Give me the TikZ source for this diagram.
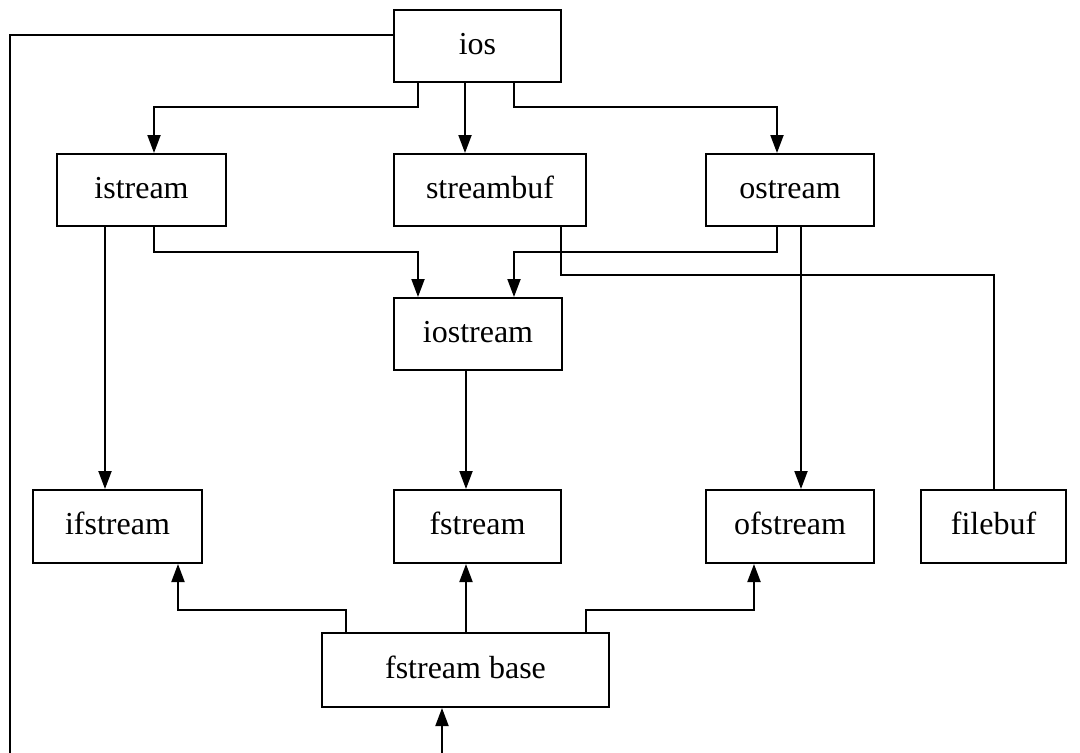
\documentclass[tikz,border=0pt]{standalone}
\usepackage{fontspec}
\setmainfont{Liberation Serif}
\usetikzlibrary{arrows.meta}
\tikzset{
  box/.style={draw, line width=2pt, inner sep=0pt, minimum height=72pt, text height=22pt, text depth=6pt, font=\fontsize{32}{38}\selectfont},
  conn/.style={line width=2pt},
  arr/.style={line width=2pt, -{Triangle[length=18pt,width=13pt]}}
}
\begin{document}
\begin{tikzpicture}[x=1pt,y=1pt]
\useasboundingbox (0,0) rectangle (1080,-753);
% nodes
\node[box, minimum width=167pt] (ios) at (477.5,-46) {ios};
\node[box, minimum width=169pt] (istream) at (141.5,-190) {istream};
\node[box, minimum width=192pt] (streambuf) at (490,-190) {streambuf};
\node[box, minimum width=168pt] (ostream) at (790,-190) {ostream};
\node[box, minimum width=168pt] (iostream) at (478,-334) {iostream};
\node[box, minimum width=169pt, minimum height=73pt] (ifstream) at (117.5,-526.5) {ifstream};
\node[box, minimum width=167pt, minimum height=73pt] (fstream) at (477.5,-526.5) {fstream};
\node[box, minimum width=168pt, minimum height=73pt] (ofstream) at (790,-526.5) {ofstream};
\node[box, minimum width=145pt, minimum height=73pt] (filebuf) at (993.5,-526.5) {filebuf};
\node[box, minimum width=287pt, minimum height=74pt] (fbase) at (465.5,-670) {fstream base};
\coordinate (lc) at (10,-753);
\coordinate (bc) at (442,-753);
% connectors from ios
\draw[arr] ([xshift=-59.5pt]ios.south) -- ++(0,-24) -| ([xshift=12.5pt]istream.north);
\draw[arr] ([xshift=-12.5pt]ios.south) -- ([xshift=-12.5pt]ios.south |- streambuf.north);
\draw[arr] ([xshift=36.5pt]ios.south) -- ++(0,-24) -| ([xshift=-13pt]ostream.north);
\draw[conn] ([yshift=11pt]ios.west) -| (lc);
% from istream
\draw[arr] ([xshift=-36.5pt]istream.south) -- ([xshift=-36.5pt]istream.south |- ifstream.north);
\draw[arr] ([xshift=12.5pt]istream.south) -- ++(0,-25) -| ([xshift=-60pt]iostream.north);
% from ostream
\draw[arr] ([xshift=-13pt]ostream.south) -- ++(0,-25) -| ([xshift=36pt]iostream.north);
\draw[arr] ([xshift=11pt]ostream.south) -- ([xshift=11pt]ostream.south |- ofstream.north);
% streambuf to filebuf
\draw[conn] ([xshift=71pt]streambuf.south) -- ++(0,-48) -| (filebuf.north);
% iostream to fstream
\draw[arr] ([xshift=-12pt]iostream.south) -- ([xshift=-12pt]iostream.south |- fstream.north);
% from fstream base
\draw[arr] ([xshift=-119.5pt]fbase.north) -- ++(0,22) -| ([xshift=60.5pt]ifstream.south);
\draw[arr] ([xshift=0.5pt]fbase.north) -- ([xshift=0.5pt]fbase.north |- fstream.south);
\draw[arr] ([xshift=120.5pt]fbase.north) -- ++(0,22) -| ([xshift=-36pt]ofstream.south);
\draw[arr] (bc) -- (bc |- fbase.south);
\end{tikzpicture}
\end{document}
